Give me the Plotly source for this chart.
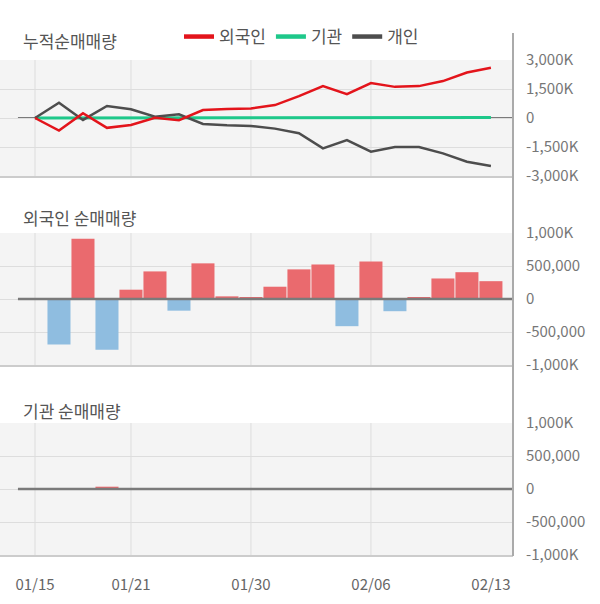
import plotly.graph_objects as go

# ---- data ----
dates = ["01/15", "01/16", "01/17", "01/20", "01/21", "01/22", "01/23", "01/28", "01/29", "01/30",
         "01/31", "02/03", "02/04", "02/05", "02/06", "02/07", "02/10", "02/11", "02/12", "02/13"]
# cumulative net buying (shares)
cum_foreign = [0, -650000, 250000, -510000, -360000, 10000, -110000, 410000, 470000, 490000,
               670000, 1130000, 1650000, 1230000, 1810000, 1610000, 1650000, 1910000, 2350000, 2600000]
cum_inst = [0, 0, 0, 30000, 30000, 30000, 30000, 30000, 30000, 30000,
            30000, 30000, 30000, 30000, 30000, 30000, 30000, 30000, 30000, 30000]
cum_indiv = [0, 790000, -100000, 620000, 450000, 70000, 190000, -310000, -380000, -410000,
             -550000, -790000, -1570000, -1140000, -1740000, -1500000, -1500000, -1830000, -2260000, -2480000]
# daily net buying
foreign = [0, -690000, 913000, -768000, 141000, 418000, -177000, 540000, 40000, 20000,
           186000, 449000, 523000, -412000, 568000, -185000, 23000, 311000, 406000, 270000]
inst = [0, 0, 0, 35000, 0, 0, 0, 0, 0, 0, 0, 0, 0, 0, 0, 0, 0, 0, 0, 0]

tick_dates = ["01/15", "01/21", "01/30", "02/06", "02/13"]
grid_dates = ["01/15", "01/21", "01/30", "02/06"]
cum_ticks = [-3000000, -1500000, 0, 1500000, 3000000]
cum_ticklabels = ["-3,000K", "-1,500K", "0", "1,500K", "3,000K"]
bar_ticks = [-1000000, -500000, 0, 500000, 1000000]
bar_ticklabels = ["-1,000K", "-500,000", "0", "500,000", "1,000K"]

# ---- style ----
RED = "#e3141b"
GREEN = "#1ec88a"
DARK = "#4d4d4d"
BAR_POS = "#ea6a6e"
BAR_NEG = "#8fbde0"
BG = "#f4f4f4"
GRID = "#dddddd"
ZERO = "#7a7a7a"
FONT = "Noto Sans CJK KR"
H = 604

def dom(top, bottom):
    return [1 - bottom / H, 1 - top / H]

fig = go.Figure()

# top panel lines
fig.add_trace(go.Scatter(x=dates, y=cum_inst, mode="lines", line=dict(color=GREEN, width=3),
                         showlegend=False, xaxis="x", yaxis="y"))
fig.add_trace(go.Scatter(x=dates, y=cum_indiv, mode="lines", line=dict(color=DARK, width=2.5),
                         showlegend=False, xaxis="x", yaxis="y"))
fig.add_trace(go.Scatter(x=dates, y=cum_foreign, mode="lines", line=dict(color=RED, width=2.5),
                         showlegend=False, xaxis="x", yaxis="y"))
# legend entries
for name, col in [("외국인", RED), ("기관", GREEN), ("개인", DARK)]:
    fig.add_trace(go.Scatter(x=[None], y=[None], mode="lines", name=name,
                             line=dict(color=col, width=4.5), xaxis="x", yaxis="y"))

# foreign bars
fig.add_trace(go.Bar(x=dates, y=foreign, marker=dict(color=[BAR_POS if v >= 0 else BAR_NEG for v in foreign],
                                                     line=dict(width=0)),
                     showlegend=False, xaxis="x2", yaxis="y2"))
# institution bars
fig.add_trace(go.Bar(x=dates, y=inst, marker=dict(color=[BAR_POS if v >= 0 else BAR_NEG for v in inst],
                                                  line=dict(width=0)),
                     showlegend=False, xaxis="x3", yaxis="y3"))

xr = [-1.458, 19.92]
panels = [("", dom(60, 176), cum_ticks, cum_ticklabels, 3000000),
          ("2", dom(233, 365), bar_ticks, bar_ticklabels, 1000000),
          ("3", dom(423, 555), bar_ticks, bar_ticklabels, 1000000)]

shapes = []
for i, (s, d, tv, tt, lim) in enumerate(panels):
    xa = dict(type="category", range=xr, domain=[0, 1], showgrid=False, zeroline=False,
              showline=True, linecolor="#cccccc", linewidth=1.5, anchor="y" + s,
              tickmode="array", tickvals=tick_dates, ticktext=tick_dates,
              showticklabels=(s == "3"), ticks="", ticklabelstandoff=15, automargin=False,
              tickfont=dict(family=FONT, size=15, color="#666666"), fixedrange=True)
    ya = dict(domain=d, range=[-lim, lim], side="right", anchor="x" + s,
              tickmode="array", tickvals=tv, ticktext=tt, showgrid=True, gridcolor=GRID, gridwidth=1,
              zeroline=False, showline=False, ticks="", ticklabelstandoff=12, automargin=False,
              tickfont=dict(family=FONT, size=15, color="#777777"), fixedrange=True)
    fig.layout["xaxis" + s] = xa
    fig.layout["yaxis" + s] = ya
    # background
    shapes.append(dict(type="rect", xref="x" + s + " domain" if s else "x domain",
                       yref="y" + s + " domain" if s else "y domain",
                       x0=0, x1=1, y0=0, y1=1, fillcolor=BG, line=dict(width=0), layer="below"))
    # vertical grid lines
    for g in grid_dates:
        shapes.append(dict(type="line", xref="x" + s, yref=("y" + s + " domain") if s else "y domain",
                           x0=g, x1=g, y0=0, y1=1, line=dict(color=GRID, width=1), layer="below"))
    # zero line
    shapes.append(dict(type="line", xref="x" + s, yref="y" + s,
                       x0=-0.71, x1=xr[1], y0=0, y1=0,
                       line=dict(color=ZERO, width=2.5 if s else 2), layer="above" if s else "below"))

# right vertical axis line
shapes.append(dict(type="line", xref="paper", yref="paper", x0=1, x1=1,
                   y0=1 - 556 / H, y1=1 - 33 / H, line=dict(color="#aaaaaa", width=2)))

annotations = []
for txt, yc in [("누적순매매량", 40), ("외국인 순매매량", 218), ("기관 순매매량", 410)]:
    annotations.append(dict(text=txt, xref="paper", yref="paper", x=21 / 513, y=1 - yc / H,
                            xanchor="left", yanchor="middle", showarrow=False,
                            font=dict(family=FONT, size=17, color="#555555")))

fig.update_layout(
    width=600, height=604,
    margin=dict(l=0, r=87, t=0, b=0, autoexpand=False),
    paper_bgcolor="white", plot_bgcolor="rgba(0,0,0,0)",
    bargap=0.04, barmode="relative",
    shapes=shapes, annotations=annotations,
    showlegend=True,
    legend=dict(orientation="h", x=179 / 513, y=1 - 37 / H, xanchor="left", yanchor="middle",
                font=dict(family=FONT, size=17, color="#555555"), bgcolor="rgba(0,0,0,0)",
                itemwidth=30, tracegroupgap=0, borderwidth=0),
    font=dict(family=FONT),
)

fig.write_html("out.html")
